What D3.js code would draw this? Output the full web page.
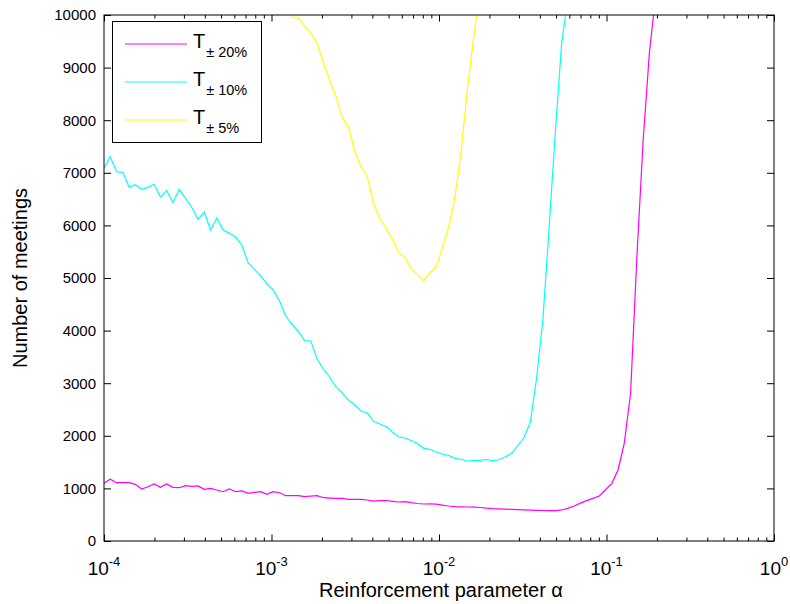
<!DOCTYPE html>
<html lang="en">
<head>
<meta charset="UTF-8">
<script src="https://d3js.org/d3.v7.min.js"></script>
<title>Number of meetings vs reinforcement parameter</title>
<style>
  body { margin: 0; background: #fff; font-family: "Liberation Sans", Arial, Helvetica, sans-serif; }
  svg text { fill: #000; }
</style>
</head>
<body>
<script>
  // log10 of the reinforcement parameter alpha, one entry per simulated point
  const alphaLog10 = [
    -4.000, -3.963, -3.925, -3.888, -3.850, -3.813, -3.775, -3.738, -3.701, -3.663,
    -3.626, -3.588, -3.551, -3.513, -3.476, -3.439, -3.401, -3.364, -3.326, -3.289,
    -3.251, -3.214, -3.177, -3.139, -3.102, -3.064, -3.027, -2.990, -2.952, -2.915,
    -2.877, -2.840, -2.802, -2.765, -2.728, -2.690, -2.653, -2.615, -2.578, -2.540,
    -2.503, -2.466, -2.428, -2.391, -2.353, -2.316, -2.278, -2.241, -2.204, -2.166,
    -2.129, -2.091, -2.054, -2.016, -1.979, -1.942, -1.904, -1.867, -1.829, -1.792,
    -1.754, -1.717, -1.680, -1.642, -1.605, -1.567, -1.530, -1.493, -1.455, -1.418,
    -1.380, -1.343, -1.305, -1.268, -1.231, -1.193, -1.156, -1.118, -1.081, -1.043,
    -1.006, -0.968, -0.931, -0.894, -0.856, -0.819, -0.781, -0.744, -0.706
  ];

  // number of meetings, T +-20% (starts at alphaLog10[0])
  const t20 = [
    1097, 1173, 1108, 1108, 1108, 1078, 989, 1032, 1084, 1021,
    1084, 1021, 1013, 1051, 1040, 1046, 983, 1002, 970, 937,
    989, 937, 951, 907, 926, 937, 888, 937, 918, 861,
    861, 861, 842, 855, 861, 823, 817, 812, 812, 793,
    793, 793, 779, 760, 766, 770, 755, 741, 747, 728,
    713, 703, 707, 700, 681, 665, 652, 650, 646, 643,
    637, 625, 616, 610, 605, 601, 595, 591, 587, 584,
    580, 576, 578, 590, 620, 665, 720, 768, 810, 855,
    975, 1097, 1350, 1857, 2813, 5380, 7623, 9277, 10380
  ];

  // T +-10% (starts at alphaLog10[0])
  const t10 = [
    7085, 7306, 7020, 7009, 6724, 6773, 6686, 6724, 6781, 6539,
    6659, 6431, 6686, 6515, 6344, 6115, 6254, 5912, 6140, 5912,
    5849, 5779, 5627, 5285, 5165, 5038, 4886, 4772, 4562, 4277,
    4116, 3983, 3808, 3802, 3460, 3270, 3118, 2928, 2813, 2680,
    2585, 2471, 2433, 2281, 2224, 2177, 2072, 1977, 1958, 1911,
    1853, 1762, 1743, 1692, 1654, 1625, 1572, 1549, 1521, 1527,
    1534, 1549, 1530, 1544, 1597, 1667, 1806, 1968, 2256, 3080,
    4201, 5931, 7794, 9454, 10322
  ];

  // T +-5% (starts at alphaLog10[29])
  const t5Start = 29;
  const t5 = [
    10500, 9956, 9937, 9790, 9651, 9461, 9093, 8764, 8446, 8055,
    7864, 7401, 7115, 6925, 6420, 6135, 5944, 5735, 5481, 5393,
    5184, 5070, 4948, 5100, 5215, 5583, 5975, 6545, 7433, 8636,
    9600, 10500
  ];

  const yTicks = [0, 1000, 2000, 3000, 4000, 5000, 6000, 7000, 8000, 9000, 10000];
  const xDecades = [-4, -3, -2, -1, 0];
  const legendSubs = ["\u00b1 20%", "\u00b1 10%", "\u00b1 5%"];
  const lineColors = ["#ff00ff", "#00ffff", "#ffff00"];

  const width = 790, height = 604;
  const plotLeft = 104, plotRight = 774, plotTop = 15, plotBottom = 541;

  const svg = d3.select("body").append("svg")
    .attr("width", width)
    .attr("height", height);

  const x = d3.scaleLog().domain([1e-4, 1]).range([plotLeft, plotRight]);
  const y = d3.scaleLinear().domain([0, 10000]).range([plotBottom, plotTop]);

  svg.append("defs").append("clipPath").attr("id", "plot")
    .append("rect")
    .attr("x", plotLeft).attr("y", plotTop)
    .attr("width", plotRight - plotLeft).attr("height", plotBottom - plotTop);

  // turn each series into [alpha, value] pairs
  const toPoints = (vals, start) => vals.map((v, i) => [Math.pow(10, alphaLog10[start + i]), v]);
  const series = [toPoints(t20, 0), toPoints(t10, 0), toPoints(t5, t5Start)];

  const line = d3.line().x(d => x(d[0])).y(d => y(d[1]));

  svg.append("g").attr("clip-path", "url(#plot)")
    .selectAll("path")
    .data(series)
    .enter().append("path")
    .attr("d", line)
    .attr("fill", "none")
    .attr("stroke", (d, i) => lineColors[i])
    .attr("stroke-width", 1.2);

  // minor ticks for the log axis (2..9 in each decade)
  const minorTicks = [];
  xDecades.slice(0, -1).forEach(d => {
    for (let m = 2; m <= 9; m++) minorTicks.push(m * Math.pow(10, d));
  });
  const majorTicks = xDecades.map(d => Math.pow(10, d));

  function styleAxis(g) {
    g.select(".domain").remove();
    g.selectAll("line").attr("stroke", "#000").attr("stroke-width", 1);
  }

  svg.append("g").attr("transform", `translate(0,${plotBottom})`)
    .call(d3.axisBottom(x).tickValues(majorTicks).tickSize(-6.5).tickFormat(""))
    .call(styleAxis);
  svg.append("g").attr("transform", `translate(0,${plotBottom})`)
    .call(d3.axisBottom(x).tickValues(minorTicks).tickSize(-3.5).tickFormat(""))
    .call(styleAxis);
  svg.append("g").attr("transform", `translate(0,${plotTop})`)
    .call(d3.axisTop(x).tickValues(majorTicks).tickSize(-6.5).tickFormat(""))
    .call(styleAxis);
  svg.append("g").attr("transform", `translate(0,${plotTop})`)
    .call(d3.axisTop(x).tickValues(minorTicks).tickSize(-3.5).tickFormat(""))
    .call(styleAxis);

  const yAxis = svg.append("g").attr("transform", `translate(${plotLeft},0)`)
    .call(d3.axisLeft(y).tickValues(yTicks).tickSize(-7).tickPadding(8).tickFormat(d3.format("d")))
    .call(styleAxis);
  yAxis.selectAll("text")
    .attr("font-family", "'Liberation Sans', Arial, sans-serif")
    .attr("font-size", 15);

  svg.append("g").attr("transform", `translate(${plotRight},0)`)
    .call(d3.axisRight(y).tickValues(yTicks).tickSize(-7).tickFormat(""))
    .call(styleAxis);

  // axes box
  svg.append("rect")
    .attr("x", plotLeft).attr("y", plotTop)
    .attr("width", plotRight - plotLeft).attr("height", plotBottom - plotTop)
    .attr("fill", "none").attr("stroke", "#000").attr("stroke-width", 1);

  // x tick labels as powers of ten
  const xLabels = svg.append("g")
    .attr("font-size", 19)
    .selectAll("text")
    .data(xDecades)
    .enter().append("text")
    .attr("x", d => x(Math.pow(10, d)))
    .attr("y", 575)
    .attr("text-anchor", "middle");
  xLabels.append("tspan").text("10");
  xLabels.append("tspan")
    .attr("dy", -9)
    .attr("font-size", 13)
    .text(d => d === 0 ? "0" : "-" + Math.abs(d));

  // axis titles
  svg.append("text")
    .attr("x", (plotLeft + plotRight) / 2 + 2)
    .attr("y", 597)
    .attr("text-anchor", "middle")
    .attr("font-size", 20)
    .text("Reinforcement parameter \u03b1");

  svg.append("text")
    .attr("transform", `translate(27,${(plotTop + plotBottom) / 2}) rotate(-90)`)
    .attr("text-anchor", "middle")
    .attr("font-size", 20)
    .text("Number of meetings");

  // legend
  const legend = svg.append("g");
  legend.append("rect")
    .attr("x", 112.5).attr("y", 21.5)
    .attr("width", 149).attr("height", 121)
    .attr("fill", "#fff").attr("stroke", "#000").attr("stroke-width", 1);

  const items = legend.selectAll(".item")
    .data(legendSubs)
    .enter().append("g")
    .attr("class", "item")
    .attr("transform", (d, i) => `translate(0,${44 + i * 38})`);

  items.append("line")
    .attr("x1", 125).attr("x2", 187)
    .attr("y1", 0).attr("y2", 0)
    .attr("stroke", (d, i) => lineColors[i])
    .attr("stroke-width", 1.2);

  const itemText = items.append("text")
    .attr("x", 193)
    .attr("y", 3.5)
    .attr("font-size", 20);
  itemText.append("tspan").text("T");
  itemText.append("tspan")
    .attr("dx", 1)
    .attr("dy", 9)
    .attr("font-size", 14.5)
    .text(d => d);
</script>
</body>
</html>
